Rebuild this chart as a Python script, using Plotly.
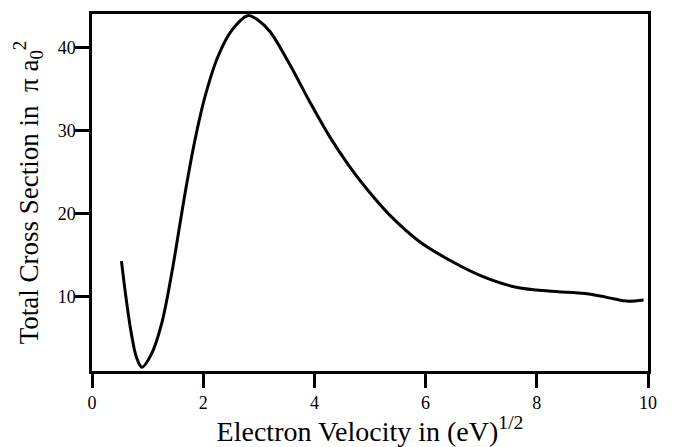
import plotly.graph_objects as go

velocity = [0.53, 0.62, 0.71, 0.80, 0.90, 1.07, 1.25, 1.43, 1.58, 1.68, 1.85, 2.03, 2.26,
            2.51, 2.80, 3.00, 3.20, 3.56, 3.92, 4.28, 4.64, 4.94, 5.36, 5.90, 6.41,
            7.01, 7.61, 8.21, 8.87, 9.14, 9.40, 9.62, 9.92]
cross_section = [14.3, 9.5, 5.5, 2.75, 1.55, 3.15, 6.74, 12.7, 18.7, 22.7, 28.8, 34.0, 38.8,
                 42.0, 43.8, 43.2, 41.9, 37.9, 33.4, 29.2, 25.6, 23.0, 19.8, 16.6, 14.5,
                 12.5, 11.2, 10.7, 10.4, 10.1, 9.75, 9.5, 9.64]
x_ticks = [0, 2, 4, 6, 8, 10]
y_ticks = [10, 20, 30, 40]

fig = go.Figure()
fig.add_trace(go.Scatter(x=velocity, y=cross_section, mode="lines",
                         line=dict(color="black", width=3, shape="spline", smoothing=1.0),
                         showlegend=False, hoverinfo="skip"))

font_family = "Liberation Serif"
fig.update_layout(
    width=673, height=447,
    margin=dict(l=92, r=25, t=11, b=76),
    paper_bgcolor="white", plot_bgcolor="white",
    font=dict(family=font_family, color="black", size=16),
    xaxis=dict(range=[0, 10], tickvals=x_ticks, ticks="outside", ticklen=14, tickwidth=3,
               tickcolor="black", showline=True, linewidth=2.5, linecolor="black",
               mirror=True, showgrid=False, zeroline=False,
               tickfont=dict(family=font_family, size=18, color="black"),
               title=dict(text="Electron Velocity in (eV)<sup>1/2</sup>",
                          font=dict(family=font_family, size=28, color="black"), standoff=0)),
    yaxis=dict(range=[1.1, 44.0], tickvals=y_ticks, ticks="outside", ticklen=14, tickwidth=3,
               tickcolor="black", showline=True, linewidth=2.5, linecolor="black",
               mirror=True, showgrid=False, zeroline=False, ticklabelstandoff=-4,
               tickfont=dict(family=font_family, size=18, color="black"),
               title=dict(text="Total Cross Section in  \u03c0 a<sub>0</sub><sup>2</sup>",
                          font=dict(family=font_family, size=27, color="black"), standoff=12)),
)

fig.write_html("out.html")
